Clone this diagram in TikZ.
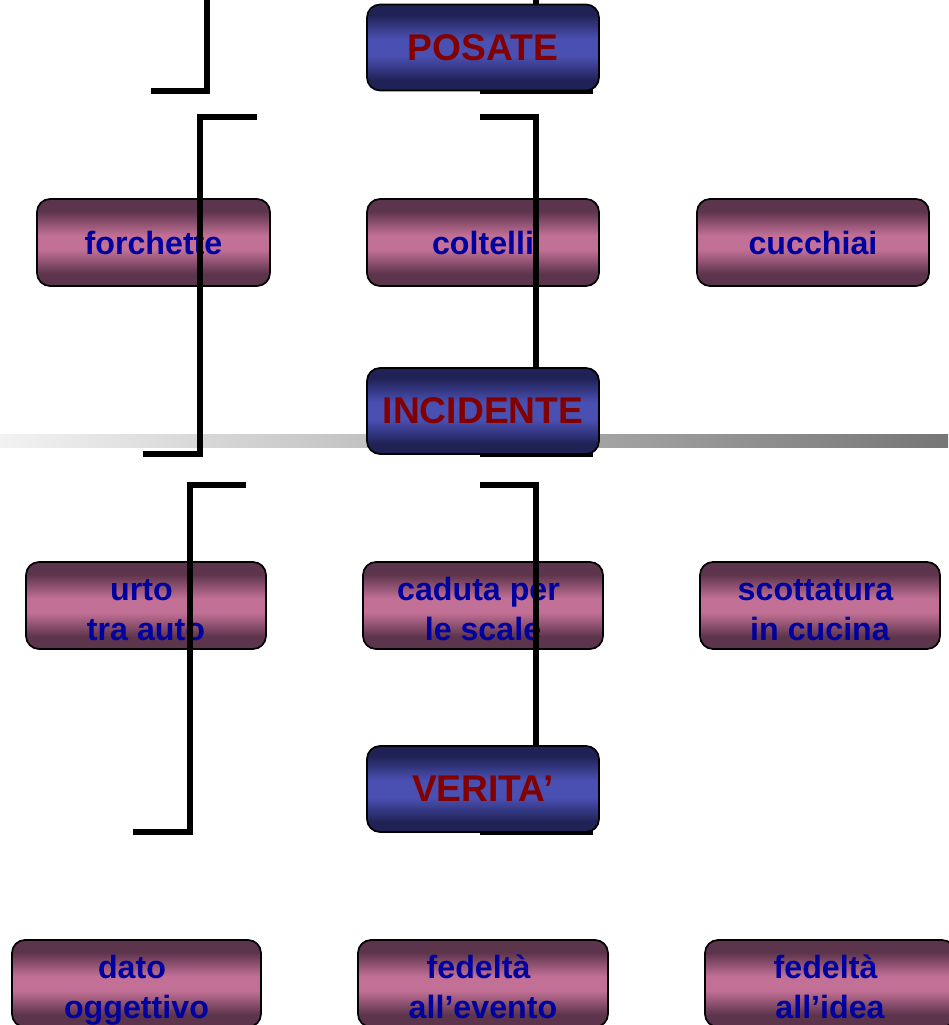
\documentclass[tikz,border=0pt]{standalone}
\usepackage{fontspec}
\setmainfont{Liberation Sans}
\definecolor{pkd}{RGB}{92,52,75}
\definecolor{pkl}{RGB}{194,112,150}
\definecolor{bld}{RGB}{32,34,86}
\definecolor{bll}{RGB}{74,80,178}
\definecolor{tblue}{RGB}{0,0,160}
\definecolor{tred}{RGB}{130,0,0}
\definecolor{barl}{RGB}{242,242,242}
\definecolor{bard}{RGB}{118,118,118}
\newcommand\mytopstrut{\rule{0pt}{30pt}}
\pgfdeclareverticalshading{pinkshade}{100bp}{color(0bp)=(pkd); color(25bp)=(pkd); color(32bp)=(pkd); color(46bp)=(pkl); color(54bp)=(pkl); color(68bp)=(pkd); color(100bp)=(pkd)}
\pgfdeclareverticalshading{blueshade}{100bp}{color(0bp)=(bld); color(25bp)=(bld); color(31bp)=(bld); color(45bp)=(bll); color(55bp)=(bll); color(69bp)=(bld); color(100bp)=(bld)}
\begin{document}
\begin{tikzpicture}[x=1pt, y=-1pt,
  box/.style={draw=black, line width=1.7pt, rounded corners=13pt, inner sep=0pt, align=center, text depth=0pt, shade},
  pinkbox/.style={box, shading=pinkshade, minimum height=87pt, text=tblue, font=\bfseries\fontsize{32.2}{39.5}\selectfont},
  bluebox/.style={box, shading=blueshade, minimum width=232pt, minimum height=86pt, text=tred, font=\bfseries\fontsize{37.2}{40}\selectfont},
  bracket/.style={draw=black, line width=6pt, miter limit=10}]
\useasboundingbox (0,0) rectangle (948,1025);
% grey bar
\shade[left color=barl, right color=bard] (0,434) rectangle (948,447);
% pink boxes
\node[pinkbox, minimum width=233pt] (forchette) at (153.5,242.5) {forchette};
\node[pinkbox, minimum width=232pt] (coltelli) at (483,242.5) {coltelli};
\node[pinkbox, minimum width=232pt] (cucchiai) at (813,242.5) {cucchiai};
\node[pinkbox, minimum width=240pt] (urto) at (146,605.5) {\mytopstrut urto\kern.278em\\tra auto};
\node[pinkbox, minimum width=240pt] (caduta) at (483,605.5) {\mytopstrut caduta per\kern.278em\\le scale};
\node[pinkbox, minimum width=240pt] (scottatura) at (820,605.5) {\mytopstrut scottatura\kern.278em\\in cucina};
\node[pinkbox, minimum width=249pt] (dato) at (136.5,983.5) {\mytopstrut dato\kern.278em\\oggettivo};
\node[pinkbox, minimum width=250pt] (evento) at (483,983.5) {\mytopstrut fedeltà\kern.278em\\all’evento};
\node[pinkbox, minimum width=250pt] (idea) at (830,983.5) {\mytopstrut fedeltà\kern.278em\\all’idea};
% brackets
\draw[bracket] (206.5,-5) -- (206.5,90.5) -- (151,90.5);
\draw[bracket] (536,-5) -- (536,90.5);
\draw[bracket] (480,90.5) -- (593,90.5);
\draw[bracket] (257,117) -- (200,117) -- (200,453.5) -- (143,453.5);
\draw[bracket] (480,117) -- (536,117) -- (536,453.5);
\draw[bracket] (480,453.5) -- (593,453.5);
\draw[bracket] (246,485) -- (190,485) -- (190,831.5) -- (133,831.5);
\draw[bracket] (480,485) -- (536,485) -- (536,831.5);
\draw[bracket] (480,831.5) -- (593,831.5);
% blue boxes
\node[bluebox] (posate) at (483,47.5) {POSATE};
\node[bluebox] (incidente) at (483,411) {INCIDENTE};
\node[bluebox] (verita) at (483,789) {VERITA’};
\end{tikzpicture}
\end{document}
